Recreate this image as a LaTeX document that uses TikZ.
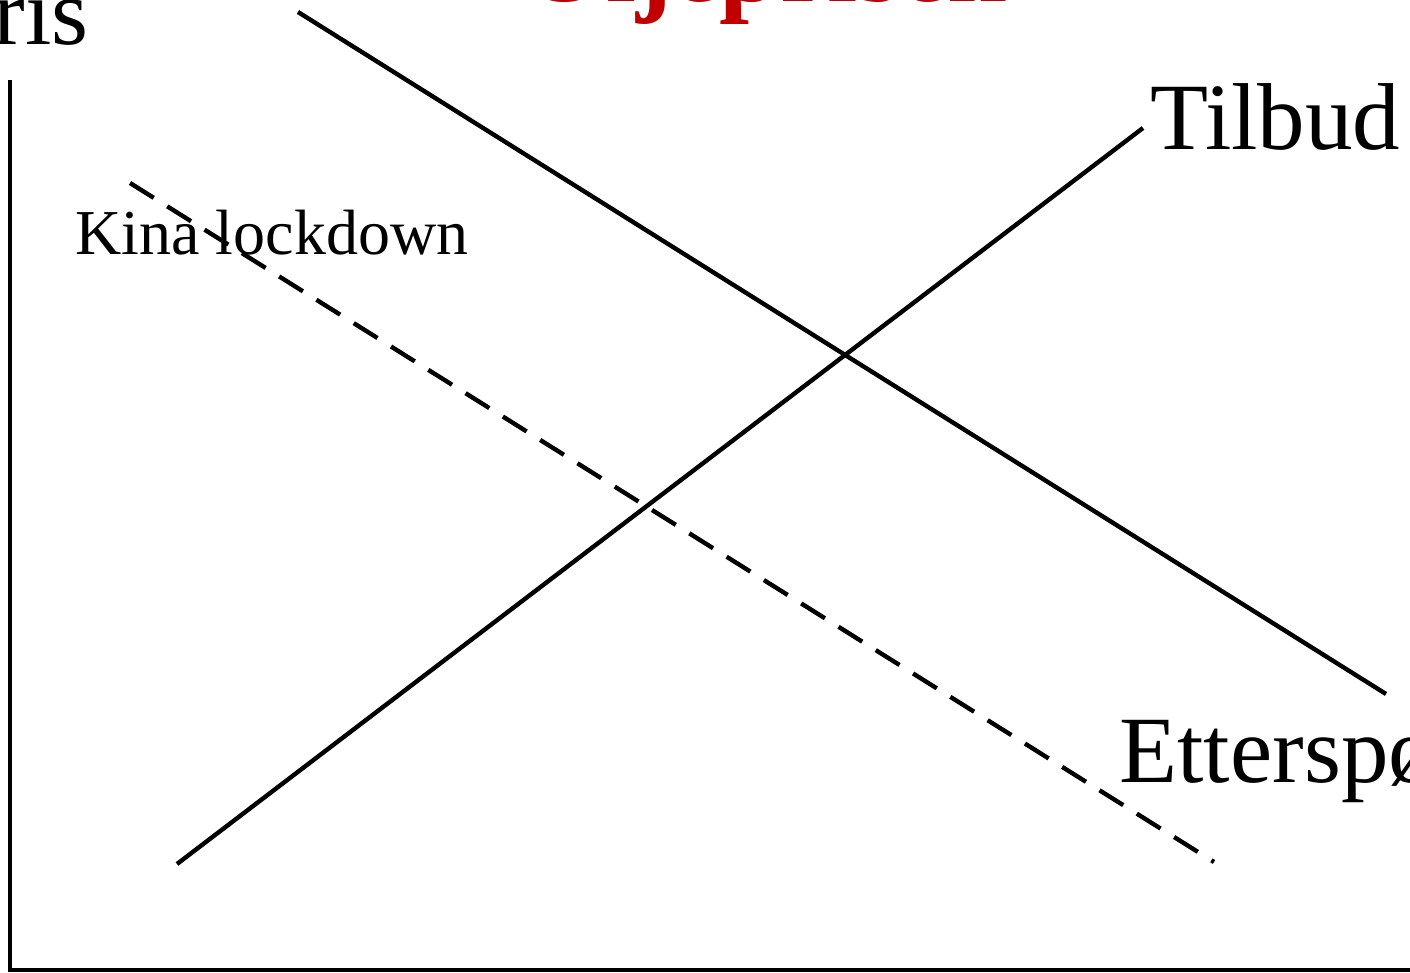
\documentclass[tikz,border=0pt]{standalone}
\usepackage{fontspec}
\setmainfont{Liberation Serif}
\usepackage{xcolor}
\usepackage{tikz}
\usetikzlibrary{positioning}
\definecolor{titlered}{HTML}{C00000}
\tikzset{
  axisline/.style={line width=2.2pt,draw=black},
  curve/.style={line width=2.2pt,draw=black},
  shifted/.style={line width=2.2pt,draw=black,dash pattern=on 14pt off 8pt},
  biglabel/.style={font=\fontsize{47.5}{58}\selectfont,inner sep=0pt,anchor=base west},
  smalllabel/.style={font=\fontsize{32}{40}\selectfont,inner sep=0pt,anchor=base west},
  headline/.style={font=\bfseries\fontsize{54}{64}\selectfont,text=titlered,inner sep=0pt,anchor=base}
}
\begin{document}
\begin{tikzpicture}[x=0.5pt,y=-0.5pt]
  \useasboundingbox (0,0) rectangle (1410,973);
  \clip (0,0) rectangle (1410,973);
  % axes
  \coordinate (top) at (10,80);
  \coordinate (origin) at (10,970);
  \coordinate (right) at (1412,970);
  \draw[axisline] (top) -- (origin) -- (right);
  % demand, supply and shifted demand
  \coordinate (dstart) at (298,12);
  \coordinate (dend) at (1386,694);
  \coordinate (sstart) at (177,864);
  \coordinate (send) at (1143,128);
  \coordinate (kstart) at (130,183);
  \coordinate (kend) at (1214,862);
  \draw[curve] (dstart) -- (dend);
  \draw[curve] (sstart) -- (send);
  \draw[shifted] (kstart) -- (kend);
  % labels
  \node[headline] (title) at (765,1.5) {Oljeprisen};
  \node[biglabel,anchor=base east] (pris) at (89,45) {Pris};
  \node[biglabel] (tilbud) at (1150,150) {Tilbud};
  \node[biglabel] (ettersporsel) at (1119,782) {Etterspørsel};
  \node[smalllabel] (kina) at (75,255) {Kina lockdown};
\end{tikzpicture}
\end{document}
